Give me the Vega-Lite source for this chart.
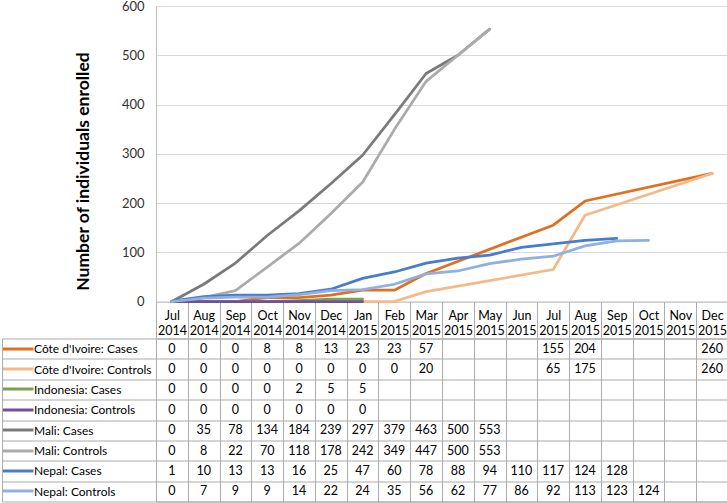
{
  "$schema": "https://vega.github.io/schema/vega-lite/v6.json",
  "padding": 0,
  "background": "white",
  "bounds": "flush",
  "spacing": 36.5,
  "config": {
    "view": {"stroke": null},
    "axis": {"labelFont": "Lato", "titleFont": "Lato", "labelColor": "#000", "titleColor": "#000"},
    "text": {"font": "Lato"}
  },
  "datasets": {
    "enroll": [
      {"series": "Côte d'Ivoire: Cases", "month": "Jul 2014", "value": 0},
      {"series": "Côte d'Ivoire: Cases", "month": "Aug 2014", "value": 0},
      {"series": "Côte d'Ivoire: Cases", "month": "Sep 2014", "value": 0},
      {"series": "Côte d'Ivoire: Cases", "month": "Oct 2014", "value": 8},
      {"series": "Côte d'Ivoire: Cases", "month": "Nov 2014", "value": 8},
      {"series": "Côte d'Ivoire: Cases", "month": "Dec 2014", "value": 13},
      {"series": "Côte d'Ivoire: Cases", "month": "Jan 2015", "value": 23},
      {"series": "Côte d'Ivoire: Cases", "month": "Feb 2015", "value": 23},
      {"series": "Côte d'Ivoire: Cases", "month": "Mar 2015", "value": 57},
      {"series": "Côte d'Ivoire: Cases", "month": "Jul 2015", "value": 155},
      {"series": "Côte d'Ivoire: Cases", "month": "Aug 2015", "value": 204},
      {"series": "Côte d'Ivoire: Cases", "month": "Dec 2015", "value": 260},
      {"series": "Côte d'Ivoire: Controls", "month": "Jul 2014", "value": 0},
      {"series": "Côte d'Ivoire: Controls", "month": "Aug 2014", "value": 0},
      {"series": "Côte d'Ivoire: Controls", "month": "Sep 2014", "value": 0},
      {"series": "Côte d'Ivoire: Controls", "month": "Oct 2014", "value": 0},
      {"series": "Côte d'Ivoire: Controls", "month": "Nov 2014", "value": 0},
      {"series": "Côte d'Ivoire: Controls", "month": "Dec 2014", "value": 0},
      {"series": "Côte d'Ivoire: Controls", "month": "Jan 2015", "value": 0},
      {"series": "Côte d'Ivoire: Controls", "month": "Feb 2015", "value": 0},
      {"series": "Côte d'Ivoire: Controls", "month": "Mar 2015", "value": 20},
      {"series": "Côte d'Ivoire: Controls", "month": "Jul 2015", "value": 65},
      {"series": "Côte d'Ivoire: Controls", "month": "Aug 2015", "value": 175},
      {"series": "Côte d'Ivoire: Controls", "month": "Dec 2015", "value": 260},
      {"series": "Indonesia: Cases", "month": "Jul 2014", "value": 0},
      {"series": "Indonesia: Cases", "month": "Aug 2014", "value": 0},
      {"series": "Indonesia: Cases", "month": "Sep 2014", "value": 0},
      {"series": "Indonesia: Cases", "month": "Oct 2014", "value": 0},
      {"series": "Indonesia: Cases", "month": "Nov 2014", "value": 2},
      {"series": "Indonesia: Cases", "month": "Dec 2014", "value": 5},
      {"series": "Indonesia: Cases", "month": "Jan 2015", "value": 5},
      {"series": "Indonesia: Controls", "month": "Jul 2014", "value": 0},
      {"series": "Indonesia: Controls", "month": "Aug 2014", "value": 0},
      {"series": "Indonesia: Controls", "month": "Sep 2014", "value": 0},
      {"series": "Indonesia: Controls", "month": "Oct 2014", "value": 0},
      {"series": "Indonesia: Controls", "month": "Nov 2014", "value": 0},
      {"series": "Indonesia: Controls", "month": "Dec 2014", "value": 0},
      {"series": "Indonesia: Controls", "month": "Jan 2015", "value": 0},
      {"series": "Mali: Cases", "month": "Jul 2014", "value": 0},
      {"series": "Mali: Cases", "month": "Aug 2014", "value": 35},
      {"series": "Mali: Cases", "month": "Sep 2014", "value": 78},
      {"series": "Mali: Cases", "month": "Oct 2014", "value": 134},
      {"series": "Mali: Cases", "month": "Nov 2014", "value": 184},
      {"series": "Mali: Cases", "month": "Dec 2014", "value": 239},
      {"series": "Mali: Cases", "month": "Jan 2015", "value": 297},
      {"series": "Mali: Cases", "month": "Feb 2015", "value": 379},
      {"series": "Mali: Cases", "month": "Mar 2015", "value": 463},
      {"series": "Mali: Cases", "month": "Apr 2015", "value": 500},
      {"series": "Mali: Cases", "month": "May 2015", "value": 553},
      {"series": "Mali: Controls", "month": "Jul 2014", "value": 0},
      {"series": "Mali: Controls", "month": "Aug 2014", "value": 8},
      {"series": "Mali: Controls", "month": "Sep 2014", "value": 22},
      {"series": "Mali: Controls", "month": "Oct 2014", "value": 70},
      {"series": "Mali: Controls", "month": "Nov 2014", "value": 118},
      {"series": "Mali: Controls", "month": "Dec 2014", "value": 178},
      {"series": "Mali: Controls", "month": "Jan 2015", "value": 242},
      {"series": "Mali: Controls", "month": "Feb 2015", "value": 349},
      {"series": "Mali: Controls", "month": "Mar 2015", "value": 447},
      {"series": "Mali: Controls", "month": "Apr 2015", "value": 500},
      {"series": "Mali: Controls", "month": "May 2015", "value": 553},
      {"series": "Nepal: Cases", "month": "Jul 2014", "value": 1},
      {"series": "Nepal: Cases", "month": "Aug 2014", "value": 10},
      {"series": "Nepal: Cases", "month": "Sep 2014", "value": 13},
      {"series": "Nepal: Cases", "month": "Oct 2014", "value": 13},
      {"series": "Nepal: Cases", "month": "Nov 2014", "value": 16},
      {"series": "Nepal: Cases", "month": "Dec 2014", "value": 25},
      {"series": "Nepal: Cases", "month": "Jan 2015", "value": 47},
      {"series": "Nepal: Cases", "month": "Feb 2015", "value": 60},
      {"series": "Nepal: Cases", "month": "Mar 2015", "value": 78},
      {"series": "Nepal: Cases", "month": "Apr 2015", "value": 88},
      {"series": "Nepal: Cases", "month": "May 2015", "value": 94},
      {"series": "Nepal: Cases", "month": "Jun 2015", "value": 110},
      {"series": "Nepal: Cases", "month": "Jul 2015", "value": 117},
      {"series": "Nepal: Cases", "month": "Aug 2015", "value": 124},
      {"series": "Nepal: Cases", "month": "Sep 2015", "value": 128},
      {"series": "Nepal: Controls", "month": "Jul 2014", "value": 0},
      {"series": "Nepal: Controls", "month": "Aug 2014", "value": 7},
      {"series": "Nepal: Controls", "month": "Sep 2014", "value": 9},
      {"series": "Nepal: Controls", "month": "Oct 2014", "value": 9},
      {"series": "Nepal: Controls", "month": "Nov 2014", "value": 14},
      {"series": "Nepal: Controls", "month": "Dec 2014", "value": 22},
      {"series": "Nepal: Controls", "month": "Jan 2015", "value": 24},
      {"series": "Nepal: Controls", "month": "Feb 2015", "value": 35},
      {"series": "Nepal: Controls", "month": "Mar 2015", "value": 56},
      {"series": "Nepal: Controls", "month": "Apr 2015", "value": 62},
      {"series": "Nepal: Controls", "month": "May 2015", "value": 77},
      {"series": "Nepal: Controls", "month": "Jun 2015", "value": 86},
      {"series": "Nepal: Controls", "month": "Jul 2015", "value": 92},
      {"series": "Nepal: Controls", "month": "Aug 2015", "value": 113},
      {"series": "Nepal: Controls", "month": "Sep 2015", "value": 123},
      {"series": "Nepal: Controls", "month": "Oct 2015", "value": 124}
    ]
  },
  "vconcat": [
    {
      "width": 572,
      "height": 295.5,
      "data": {"name": "enroll"},
      "mark": {"type": "line", "strokeWidth": 2.75, "strokeJoin": "round", "strokeCap": "round"},
      "encoding": {
        "x": {
          "field": "month", "type": "ordinal", "bandPosition": 0.5,
          "scale": {"type": "band", "paddingInner": 0, "paddingOuter": 0,
            "domain": ["Jul 2014","Aug 2014","Sep 2014","Oct 2014","Nov 2014","Dec 2014","Jan 2015","Feb 2015","Mar 2015","Apr 2015","May 2015","Jun 2015","Jul 2015","Aug 2015","Sep 2015","Oct 2015","Nov 2015","Dec 2015"]},
          "axis": {
            "orient": "bottom", "title": null, "grid": false, "labelAngle": 0,
            "tickBand": "extent", "tickSize": 36.5, "tickColor": "#ababab", "tickWidth": 1,
            "domain": true, "domainColor": "#bfbfbf",
            "labelExpr": "split(datum.label, ' ')", "labelBaseline": "top", "labelPadding": -29,
            "labelFontSize": 12.5, "labelLineHeight": 15, "labelOverlap": false, "labelFlush": false
          }
        },
        "y": {
          "field": "value", "type": "quantitative",
          "scale": {"domain": [0, 600]},
          "axis": {
            "values": [0, 100, 200, 300, 400, 500, 600],
            "grid": true, "gridColor": "#d9d9d9", "ticks": false,
            "domain": true, "domainColor": "#bfbfbf",
            "labelPadding": 12, "labelFontSize": 13, "labelFlush": false, "labelColor": "#333",
            "title": "Number of individuals enrolled", "titleFontSize": 17.5, "titleFontWeight": "bold",
            "titlePadding": 29, "titleY": 165
          }
        },
        "color": {
          "field": "series", "type": "nominal", "legend": null,
          "scale": {
            "domain": ["Côte d'Ivoire: Cases","Côte d'Ivoire: Controls","Indonesia: Cases","Indonesia: Controls","Mali: Cases","Mali: Controls","Nepal: Cases","Nepal: Controls"],
            "range": ["#E0701F","#F5B887","#78A24E","#6F4F9E","#7A7A7A","#ABABAB","#4A7DC9","#8FB0E0"]
          }
        }
      }
    },
    {
      "width": 572,
      "height": 163,
      "view": {"stroke": "#ababab"},
      "data": {"name": "enroll"},
      "layer": [
        {
          "mark": {"type": "text", "fontSize": 12.5, "color": "#000"},
          "encoding": {
            "x": {
              "field": "month", "type": "ordinal",
              "scale": {"type": "band", "paddingInner": 0, "paddingOuter": 0,
                "domain": ["Jul 2014","Aug 2014","Sep 2014","Oct 2014","Nov 2014","Dec 2014","Jan 2015","Feb 2015","Mar 2015","Apr 2015","May 2015","Jun 2015","Jul 2015","Aug 2015","Sep 2015","Oct 2015","Nov 2015","Dec 2015"]},
              "axis": {"title": null, "grid": true, "gridColor": "#ababab", "tickBand": "extent", "ticks": false, "labels": false, "domain": false}
            },
            "y": {
              "field": "series", "type": "nominal",
              "scale": {"type": "band", "paddingInner": 0, "paddingOuter": 0,
                "domain": ["Côte d'Ivoire: Cases","Côte d'Ivoire: Controls","Indonesia: Cases","Indonesia: Controls","Mali: Cases","Mali: Controls","Nepal: Cases","Nepal: Controls"]},
              "axis": {
                "orient": "left", "title": null, "offset": 0,
                "domain": true, "domainColor": "#ababab",
                "grid": true, "gridColor": "#ababab",
                "tickBand": "extent", "ticks": true, "tickSize": 154, "tickColor": "#ababab",
                "labelAlign": "left", "labelPadding": -31.5, "labelFontSize": 12,
                "labelOverlap": false, "labelFlush": false, "labelLimit": 200
              }
            },
            "text": {"field": "value", "type": "quantitative", "format": "d"}
          }
        },
        {
          "mark": {"type": "text", "text": ""},
          "encoding": {
            "y": {
              "field": "series", "type": "nominal",
              "axis": {
                "orient": "left", "title": null, "offset": 154,
                "domain": true, "domainColor": "#ababab",
                "grid": false, "labels": false,
                "ticks": true, "tickSize": -31, "tickWidth": 3,
                "tickColor": {
                  "condition": [
                    {"test": "datum.value === \"Côte d'Ivoire: Cases\"", "value": "#E0701F"},
                    {"test": "datum.value === \"Côte d'Ivoire: Controls\"", "value": "#F5B887"},
                    {"test": "datum.value === \"Indonesia: Cases\"", "value": "#78A24E"},
                    {"test": "datum.value === \"Indonesia: Controls\"", "value": "#6F4F9E"},
                    {"test": "datum.value === \"Mali: Cases\"", "value": "#7A7A7A"},
                    {"test": "datum.value === \"Mali: Controls\"", "value": "#ABABAB"},
                    {"test": "datum.value === \"Nepal: Cases\"", "value": "#4A7DC9"}
                  ],
                  "value": "#8FB0E0"
                }
              }
            }
          }
        }
      ],
      "resolve": {"axis": {"y": "independent"}}
    }
  ]
}
